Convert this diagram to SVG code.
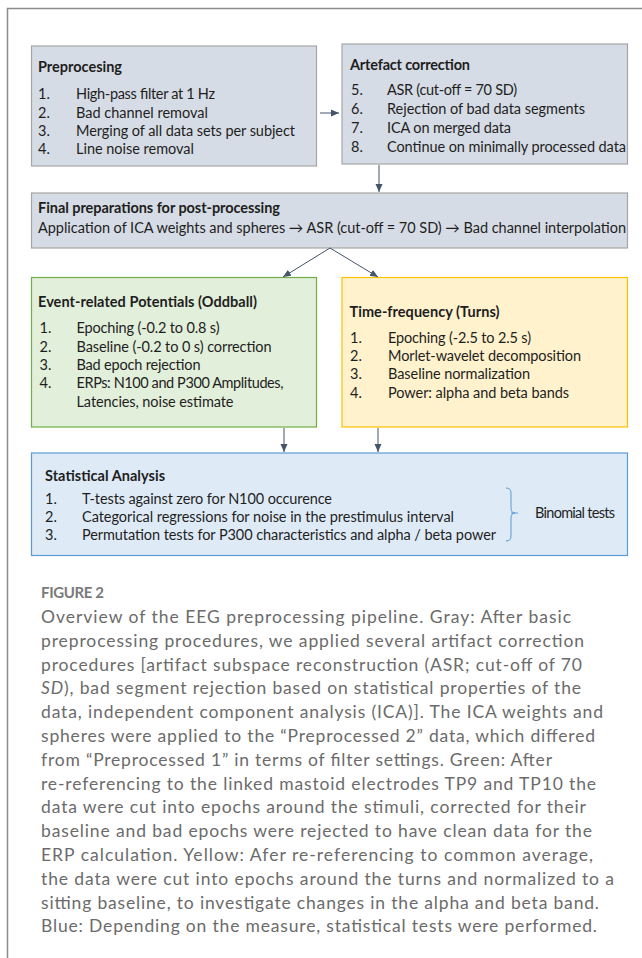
<svg xmlns="http://www.w3.org/2000/svg" width="642" height="958" viewBox="0 0 642 958">
<style>
.t{font-family:Lato,"Liberation Sans",sans-serif;font-size:14.5px;fill:#1e1e1e}
.b{font-weight:bold}
.gray{fill:#d6dce5;stroke:#a6a6a6;stroke-width:1.2}
.green{fill:#e2efda;stroke:#70ad47;stroke-width:1.2}
.yellow{fill:#fff2cc;stroke:#ffc000;stroke-width:1.2}
.blue{fill:#deebf7;stroke:#5b9bd5;stroke-width:1.2}
.c{stroke:#44546a;stroke-width:1;fill:none}
.cap{font-family:Lato,"Liberation Sans",sans-serif;font-size:17.5px;font-weight:400;fill:#6b6b6b}
.fig{font-family:Lato,"Liberation Sans",sans-serif;font-size:15px;fill:#7a7a7a;font-weight:bold}
</style>
<defs>
<marker id="ah" markerUnits="userSpaceOnUse" markerWidth="8" markerHeight="8" refX="8" refY="4" orient="auto">
<path d="M0,0.5 L8,4 L0,7.5 z" fill="#44546a"/>
</marker>
</defs>
<rect width="642" height="958" fill="#ffffff"/>
<g id="frame" stroke="#8c8c8c" stroke-width="1.5" fill="none">
<path d="M7.5,958 V8.5 H642"/>
</g>
<g id="preprocessing">
<rect class="gray" x="31.5" y="46" width="285" height="120"/>
<text class="t b" x="38" y="72" textLength="84">Preprocesing</text>
<text class="t" x="38" y="99">1.</text><text class="t" x="76" y="99" textLength="139">High-pass filter at 1 Hz</text>
<text class="t" x="38" y="117.5">2.</text><text class="t" x="76" y="117.5" textLength="132">Bad channel removal</text>
<text class="t" x="38" y="136">3.</text><text class="t" x="76" y="136" textLength="219">Merging of all data sets per subject</text>
<text class="t" x="38" y="154">4.</text><text class="t" x="76" y="154" textLength="118">Line noise removal</text>
</g>
<g id="artefact">
<rect class="gray" x="342" y="44" width="285.5" height="120"/>
<text class="t b" x="350" y="70" textLength="120">Artefact correction</text>
<text class="t" x="351" y="95">5.</text><text class="t" x="387" y="95" textLength="130">ASR (cut-off = 70 SD)</text>
<text class="t" x="351" y="114">6.</text><text class="t" x="387" y="114" textLength="198">Rejection of bad data segments</text>
<text class="t" x="351" y="133">7.</text><text class="t" x="387" y="133" textLength="124">ICA on merged data</text>
<text class="t" x="351" y="152">8.</text><text class="t" x="387" y="152" textLength="239">Continue on minimally processed data</text>
</g>
<g id="final">
<rect class="gray" x="31.5" y="193" width="596" height="55"/>
<text class="t b" x="38" y="212.5" textLength="242">Final preparations for post-processing</text>
<text class="t" x="38" y="233" textLength="588">Application of ICA weights and spheres → ASR (cut-off = 70 SD) → Bad channel interpolation</text>
</g>
<g id="erp">
<rect class="green" x="31.5" y="277.5" width="285" height="149.5"/>
<text class="t b" x="38" y="307" textLength="219">Event-related Potentials (Oddball)</text>
<text class="t" x="39.5" y="333">1.</text><text class="t" x="76.5" y="333" textLength="143">Epoching (-0.2 to 0.8 s)</text>
<text class="t" x="39.5" y="352">2.</text><text class="t" x="76.5" y="352" textLength="195">Baseline (-0.2 to 0 s) correction</text>
<text class="t" x="39.5" y="370">3.</text><text class="t" x="76.5" y="370" textLength="124">Bad epoch rejection</text>
<text class="t" x="39.5" y="388">4.</text><text class="t" x="76.5" y="388" textLength="207">ERPs: N100 and P300 Amplitudes,</text>
<text class="t" x="76.5" y="407" textLength="157">Latencies, noise estimate</text>
</g>
<g id="timefreq">
<rect class="yellow" x="342" y="277.5" width="285.5" height="149.5"/>
<text class="t b" x="349.5" y="317" textLength="150">Time-frequency (Turns)</text>
<text class="t" x="350" y="343">1.</text><text class="t" x="388" y="343" textLength="143">Epoching (-2.5 to 2.5 s)</text>
<text class="t" x="350" y="361">2.</text><text class="t" x="388" y="361" textLength="193">Morlet-wavelet decomposition</text>
<text class="t" x="350" y="379">3.</text><text class="t" x="388" y="379" textLength="142">Baseline normalization</text>
<text class="t" x="350" y="398">4.</text><text class="t" x="388" y="398" textLength="181">Power: alpha and beta bands</text>
</g>
<g id="stats">
<rect class="blue" x="31.5" y="453" width="596" height="102.5"/>
<text class="t b" x="45" y="481" textLength="120">Statistical Analysis</text>
<text class="t" x="45" y="504">1.</text><text class="t" x="82" y="504" textLength="250">T-tests against zero for N100 occurence</text>
<text class="t" x="45" y="522">2.</text><text class="t" x="82" y="522" textLength="372">Categorical regressions for noise in the prestimulus interval</text>
<text class="t" x="45" y="540">3.</text><text class="t" x="82" y="540" textLength="414">Permutation tests for P300 characteristics and alpha / beta power</text>
<path d="M506,488 Q511,488 511,493 V508 Q511,513 515,513 Q511,513 511,518 V536 Q511,541 506,541 M511,513 H518" stroke="#5b9bd5" stroke-width="1" fill="none"/>
<text class="t" x="535" y="518" textLength="80">Binomial tests</text>
</g>
<g id="connectors">
<line class="c" x1="320" y1="113" x2="339" y2="113" marker-end="url(#ah)"/>
<line class="c" x1="379" y1="165" x2="379" y2="192" marker-end="url(#ah)"/>
<line class="c" x1="330" y1="248" x2="283" y2="277" marker-end="url(#ah)"/>
<line class="c" x1="330" y1="248" x2="378" y2="277" marker-end="url(#ah)"/>
<line class="c" x1="284" y1="428" x2="284" y2="452" marker-end="url(#ah)"/>
<line class="c" x1="378" y1="428" x2="378" y2="452" marker-end="url(#ah)"/>
</g>
<g id="caption">
<text class="fig" x="41" y="598" textLength="63">FIGURE 2</text>
<text class="cap" x="41" y="623" textLength="530">Overview of the EEG preprocessing pipeline. Gray: After basic</text>
<text class="cap" x="41" y="646.8" textLength="543">preprocessing procedures, we applied several artifact correction</text>
<text class="cap" x="41" y="670.6" textLength="541">procedures [artifact subspace reconstruction (ASR; cut-off of 70</text>
<text class="cap" x="41" y="694.4" textLength="540"><tspan font-style="italic">SD</tspan>), bad segment rejection based on statistical properties of the</text>
<text class="cap" x="41" y="718.2" textLength="562">data, independent component analysis (ICA)]. The ICA weights and</text>
<text class="cap" x="41" y="742" textLength="554">spheres were applied to the “Preprocessed 2” data, which differed</text>
<text class="cap" x="41" y="765.8" textLength="511">from “Preprocessed 1” in terms of filter settings. Green: After</text>
<text class="cap" x="41" y="789.6" textLength="555">re-referencing to the linked mastoid electrodes TP9 and TP10 the</text>
<text class="cap" x="41" y="813.4" textLength="545">data were cut into epochs around the stimuli, corrected for their</text>
<text class="cap" x="41" y="837.2" textLength="551">baseline and bad epochs were rejected to have clean data for the</text>
<text class="cap" x="41" y="861" textLength="552">ERP calculation. Yellow: Afer re-referencing to common average,</text>
<text class="cap" x="41" y="884.8" textLength="573">the data were cut into epochs around the turns and normalized to a</text>
<text class="cap" x="41" y="908.6" textLength="558">sitting baseline, to investigate changes in the alpha and beta band.</text>
<text class="cap" x="41" y="932.4" textLength="556">Blue: Depending on the measure, statistical tests were performed.</text>
</g>
</svg>
